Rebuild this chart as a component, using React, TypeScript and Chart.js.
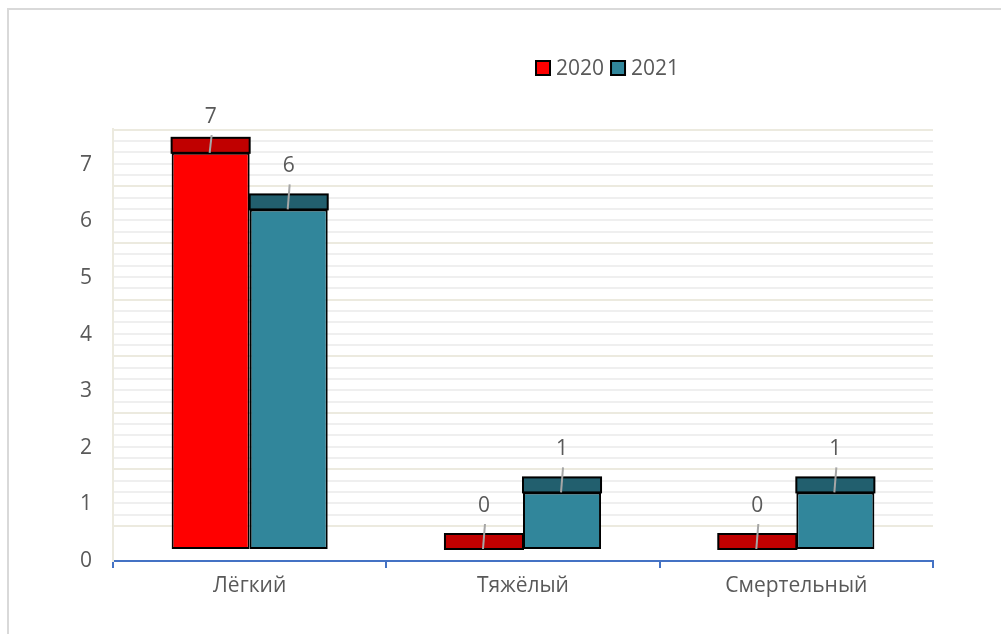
import React, { useEffect, useRef } from "react";
import { Chart, registerables } from "chart.js";

Chart.register(...registerables);

// Data
const categories = ["Лёгкий", "Тяжёлый", "Смертельный"];
const seriesLabels = ["2020", "2021"];
const values2020 = [7, 0, 0];
const values2021 = [6, 1, 1];
const yTickLabels = [0, 1, 2, 3, 4, 5, 6, 7];
const minorDivisions = 5;

// Look
const FONT = '"Open Sans", "Noto Sans", sans-serif';
const FONT_SIZE = 21;
const TEXT = "#595959";
const frontColors = ["#FF0000", "#31869B"];
const topColors = ["#C00000", "#225F6E"];
const AXIS_BLUE = "#4472C4";
const WALL_MAJOR = "#ECEADF";
const WALL_MINOR = "#EFEFEF";

// Pseudo-3D geometry (in value units of the visible axis)
const Y_MAX = 7.633;
const BAR_LIFT = 0.212; // front face base sits above the axis line
const WALL_LIFT = 0.618; // back wall zero line
const TOP_FACE_PX = 15;

const depthPlugin = {
  id: "depthFaces",
  afterDatasetsDraw(chart: any) {
    const ctx = chart.ctx as CanvasRenderingContext2D;
    const area = chart.chartArea;
    ctx.save();
    // top faces of the columns
    chart.data.datasets.forEach((ds: any, di: number) => {
      const meta = chart.getDatasetMeta(di);
      meta.data.forEach((bar: any) => {
        const { x, y, width } = bar.getProps(["x", "y", "width"], true);
        ctx.fillStyle = topColors[di];
        ctx.fillRect(x - width / 2, y - TOP_FACE_PX, width, TOP_FACE_PX);
        ctx.strokeStyle = "#000000";
        ctx.lineWidth = 2;
        ctx.strokeRect(x - width / 2, y - TOP_FACE_PX, width, TOP_FACE_PX);
      });
    });
    // value labels with leader lines
    ctx.font = `${FONT_SIZE}px ${FONT}`;
    ctx.textAlign = "center";
    ctx.textBaseline = "middle";
    chart.data.datasets.forEach((ds: any, di: number) => {
      const meta = chart.getDatasetMeta(di);
      meta.data.forEach((bar: any, i: number) => {
        const { x, y } = bar.getProps(["x", "y"], true);
        const ly = Math.max(y - 43, area.top - 12);
        ctx.strokeStyle = "#A6A6A6";
        ctx.lineWidth = 2;
        ctx.beginPath();
        ctx.moveTo(x + 1, ly + 18);
        ctx.lineTo(x - 1, y);
        ctx.stroke();
        ctx.fillStyle = TEXT;
        ctx.fillText(String(ds.data[i]), x, ly);
      });
    });
    ctx.restore();
  },
  afterDraw(chart: any) {
    // legend
    const ctx = chart.ctx as CanvasRenderingContext2D;
    ctx.save();
    ctx.font = `${FONT_SIZE}px ${FONT}`;
    ctx.textAlign = "left";
    ctx.textBaseline = "middle";
    let lx = 536;
    const ly = 68;
    chart.data.datasets.forEach((ds: any, di: number) => {
      ctx.fillStyle = frontColors[di];
      ctx.fillRect(lx, ly - 7, 14, 14);
      ctx.strokeStyle = "#000000";
      ctx.lineWidth = 2;
      ctx.strokeRect(lx, ly - 7, 14, 14);
      ctx.fillStyle = TEXT;
      ctx.fillText(ds.label, lx + 20, ly + 1);
      lx += 20 + ctx.measureText(ds.label).width + 7;
    });
    ctx.restore();
  },
};

export default function App() {
  const ref = useRef<HTMLCanvasElement | null>(null);

  useEffect(() => {
    if (!ref.current) return;
    const wallTicks: number[] = [];
    const last = yTickLabels[yTickLabels.length - 1];
    for (let k = 0; k <= last * minorDivisions; k++) wallTicks.push(k / minorDivisions);

    const chart = new Chart(ref.current, {
      type: "bar",
      data: {
        labels: categories,
        datasets: [
          {
            label: seriesLabels[0],
            data: values2020,
            backgroundColor: frontColors[0],
            borderColor: "#000000",
            borderWidth: 2,
            borderSkipped: false,
            yAxisID: "yBar",
          },
          {
            label: seriesLabels[1],
            data: values2021,
            backgroundColor: frontColors[1],
            borderColor: "#000000",
            borderWidth: 2,
            borderSkipped: false,
            yAxisID: "yBar",
          },
        ],
      },
      options: {
        responsive: false,
        animation: false,
        devicePixelRatio: 1,
        layout: { padding: { top: 129, right: 68, left: 0, bottom: 0 } },
        plugins: { legend: { display: false }, tooltip: { enabled: false } },
        datasets: { bar: { categoryPercentage: 0.571, barPercentage: 1 } },
        scales: {
          x: {
            type: "category",
            offset: true,
            grid: {
              offset: true,
              drawOnChartArea: false,
              drawTicks: true,
              tickLength: 7,
              color: AXIS_BLUE,
              lineWidth: 2,
            },
            border: { display: true, color: AXIS_BLUE, width: 2 },
            ticks: { font: { family: FONT, size: FONT_SIZE }, color: TEXT, padding: 5 },
            afterFit: (s: any) => {
              s.height = 73;
            },
          },
          y: {
            position: "left",
            min: 0,
            max: Y_MAX,
            grid: { display: false, drawTicks: false },
            border: { display: true, color: WALL_MAJOR, width: 2 },
            ticks: { font: { family: FONT, size: FONT_SIZE }, color: TEXT, padding: 21 },
            afterBuildTicks: (s: any) => {
              s.ticks = yTickLabels.map((v) => ({ value: v }));
            },
            afterFit: (s: any) => {
              s.width = 113;
            },
          },
          yBar: {
            display: false,
            min: -BAR_LIFT,
            max: Y_MAX - BAR_LIFT,
          },
          wall: {
            position: "right",
            min: -WALL_LIFT,
            max: Y_MAX - WALL_LIFT,
            ticks: { display: false },
            border: { display: false },
            grid: {
              drawTicks: false,
              lineWidth: 2,
              color: (c: any) => {
                const v = c.tick ? c.tick.value : 0;
                return Math.abs(v - Math.round(v)) < 1e-6 ? WALL_MAJOR : WALL_MINOR;
              },
            },
            afterBuildTicks: (s: any) => {
              s.ticks = wallTicks.map((v) => ({ value: v }));
            },
            afterFit: (s: any) => {
              s.width = 0;
            },
          },
        },
      } as any,
      plugins: [depthPlugin],
    });
    return () => chart.destroy();
  }, []);

  return (
    <div style={{ position: "fixed", left: 0, top: 0, width: 1001, height: 634, background: "#ffffff", overflow: "hidden" }}>
      <div
        style={{
          position: "absolute",
          left: 7,
          top: 8,
          width: 1100,
          height: 700,
          borderLeft: "2px solid #D9D9D9",
          borderTop: "2px solid #D9D9D9",
        }}
      />
      <canvas ref={ref} width={1001} height={634} style={{ position: "absolute", left: 0, top: 0 }} />
    </div>
  );
}
